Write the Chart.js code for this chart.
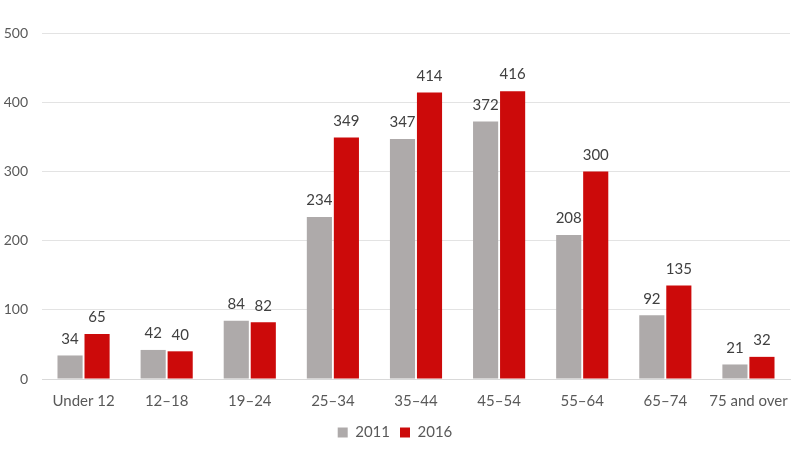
<!DOCTYPE html>
<html><head><meta charset="utf-8">
<script src="https://cdn.jsdelivr.net/npm/chart.js@4"></script>
<style>html,body{margin:0;padding:0;background:#fff}#w{width:800px;height:450px}</style>
</head><body><div id="w"><canvas id="c"></canvas></div>
<script>
const categories = ["Under 12","12–18","19–24","25–34","35–44","45–54","55–64","65–74","75 and over"];
const values2011 = [34,42,84,234,347,372,208,92,21];
const values2016 = [65,40,82,349,414,416,300,135,32];
const yTicks = [0,100,200,300,400,500];
const FONT = 'Lato, "Noto Sans", sans-serif';

const labelPlugin = {
  id:'labels',
  afterDatasetsDraw(chart){
    const ctx = chart.ctx;
    ctx.save();
    ctx.font = '15px ' + FONT;
    ctx.fillStyle = '#404040';
    ctx.textAlign = 'center';
    ctx.textBaseline = 'bottom';
    chart.data.datasets.forEach((ds,i)=>{
      chart.getDatasetMeta(i).data.forEach((bar,j)=>{
        ctx.fillText(ds.data[j], bar.x, bar.y - 9);
      });
    });
    ctx.restore();
  }
};

new Chart(document.getElementById('c'),{
  type:'bar',
  data:{labels:categories,datasets:[
    {label:'2011',data:values2011,backgroundColor:'#AEAAAA',categoryPercentage:0.65,barPercentage:0.93},
    {label:'2016',data:values2016,backgroundColor:'#CC0A0A',categoryPercentage:0.65,barPercentage:0.93}
  ]},
  options:{
    responsive:true,maintainAspectRatio:false,animation:false,
    layout:{padding:{top:33,right:10,left:0,bottom:0}},
    plugins:{
      legend:{position:'bottom',labels:{boxWidth:10,boxHeight:10,padding:10,color:'#595959',font:{family:FONT,size:15}}},
      tooltip:{enabled:false}
    },
    scales:{
      x:{grid:{display:false},border:{color:'#d9d9d9'},ticks:{color:'#595959',padding:5,maxRotation:0,minRotation:0,autoSkip:false,font:{family:FONT,size:15}}},
      y:{min:0,max:500,afterBuildTicks(ax){ax.ticks=yTicks.map(v=>({value:v}));},
         afterFit(ax){ax.width=42;},
         grid:{color:'#e3e3e3',drawTicks:false},border:{display:false},
         ticks:{color:'#595959',padding:14,font:{family:FONT,size:14}}}
    }
  },
  plugins:[labelPlugin]
});
</script></body></html>
